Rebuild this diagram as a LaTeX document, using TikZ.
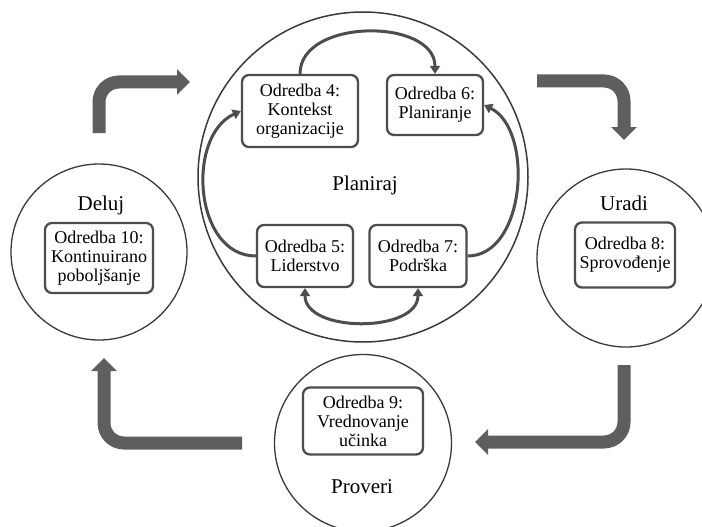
\documentclass[tikz,border=0pt]{standalone}
\usepackage{fontspec}
\setmainfont{Liberation Serif}
\usetikzlibrary{arrows.meta}

\definecolor{okvir}{HTML}{4D4D4D}
\definecolor{krug}{HTML}{3A3A3A}
\definecolor{strelica}{HTML}{5E5E5E}

\tikzset{
	faza/.style={circle, draw=krug, line width=1.3pt, inner sep=0pt},
	fazatekst/.style={font=\fontsize{21}{24}\selectfont, inner sep=0pt},
	odredba/.style={draw=okvir, line width=2.3pt, rounded corners=7pt, fill=white, align=center, inner sep=0pt, font=\fontsize{18}{19}\selectfont},
	veza/.style={draw=okvir, line width=3pt},
	vrh/.style={-{Triangle[width=10pt,length=8pt]}},
	tok/.style={draw=strelica, line width=13pt, rounded corners=20pt, -{Triangle[width=25pt,length=13pt]}}
}

\begin{document}
\begin{tikzpicture}[x=1pt,y=-1pt]
			\useasboundingbox (0,0) rectangle (702,527);
			\fill[white] (0,0) rectangle (702,527);
			\clip (0,0) rectangle (702,527);
			
			%Shape: Circle [Planiraj]
			\node[faza, line width=1.5pt, minimum size=330pt] (plan) at (363,177) {};
			%Shape: Circle [Deluj]
			\node[faza, minimum size=176pt] (deluj) at (99,252) {};
			%Shape: Circle [Uradi]
			\node[faza, minimum size=178pt] (uradi) at (626,258) {};
			%Shape: Circle [Proveri]
			\node[faza, minimum size=177pt] (proveri) at (363,443) {};
			
			% Text Node
			\node[fazatekst] (plan-t) at (365,185) {Planiraj};
			% Text Node
			\node[fazatekst] (deluj-t) at (101,205) {Deluj};
			% Text Node
			\node[fazatekst] (uradi-t) at (624,203) {Uradi};
			% Text Node
			\node[fazatekst] (proveri-t) at (362,487) {Proveri};
			
			% Box Nodes
			\node[odredba, minimum width=116pt, minimum height=72pt] (o4) at (300,111) {Odredba 4:\\Kontekst\\organizacije};
			\node[odredba, minimum width=96pt, minimum height=60pt] (o6) at (435,105) {Odredba 6:\\Planiranje};
			\node[odredba, minimum width=96pt, minimum height=62pt] (o5) at (305,256) {Odredba 5:\\Liderstvo};
			\node[odredba, minimum width=97pt, minimum height=62pt] (o7) at (418,256) {Odredba 7:\\Podrška};
			\node[odredba, minimum width=108pt, minimum height=70pt] (o10) at (99,258) {Odredba 10:\\Kontinuirano\\poboljšanje};
			\node[odredba, minimum width=100pt, minimum height=65pt] (o8) at (625,255) {Odredba 8:\\Sprovođenje};
			\node[odredba, minimum width=120pt, minimum height=67pt] (o9) at (363,421) {Odredba 9:\\Vrednovanje\\učinka};
			
			%Curves inside Planiraj
			\draw[veza, vrh] (o4.north) .. controls +(0,-56) and +(0,-56) .. (o6.north);
			\draw[veza, vrh] (o5.west) .. controls +(-62,0) and +(-55,25) .. (o4.west);
			\draw[veza, vrh] (o7.east) .. controls +(58,0) and +(50,25) .. (o6.east);
			\draw[veza, {Triangle[width=10pt,length=8pt]}-{Triangle[width=10pt,length=8pt]}] (o5.south) .. controls +(0,45) and +(0,45) .. (o7.south);
			
			%Thick Arrows
			\coordinate (a1s) at (99,133);
			\coordinate (a1e) at (190,82);
			\coordinate (a2s) at (537,81);
			\coordinate (a2e) at (624,140);
			\coordinate (a3s) at (624,365);
			\coordinate (a3e) at (475,442);
			\coordinate (a4s) at (242,443);
			\coordinate (a4e) at (104,358);
			\draw[tok] (a1s) |- (a1e);
			\draw[tok] (a2s) -| (a2e);
			\draw[tok] (a3s) |- (a3e);
			\draw[tok] (a4s) -| (a4e);
			
		\end{tikzpicture}
\end{document}
